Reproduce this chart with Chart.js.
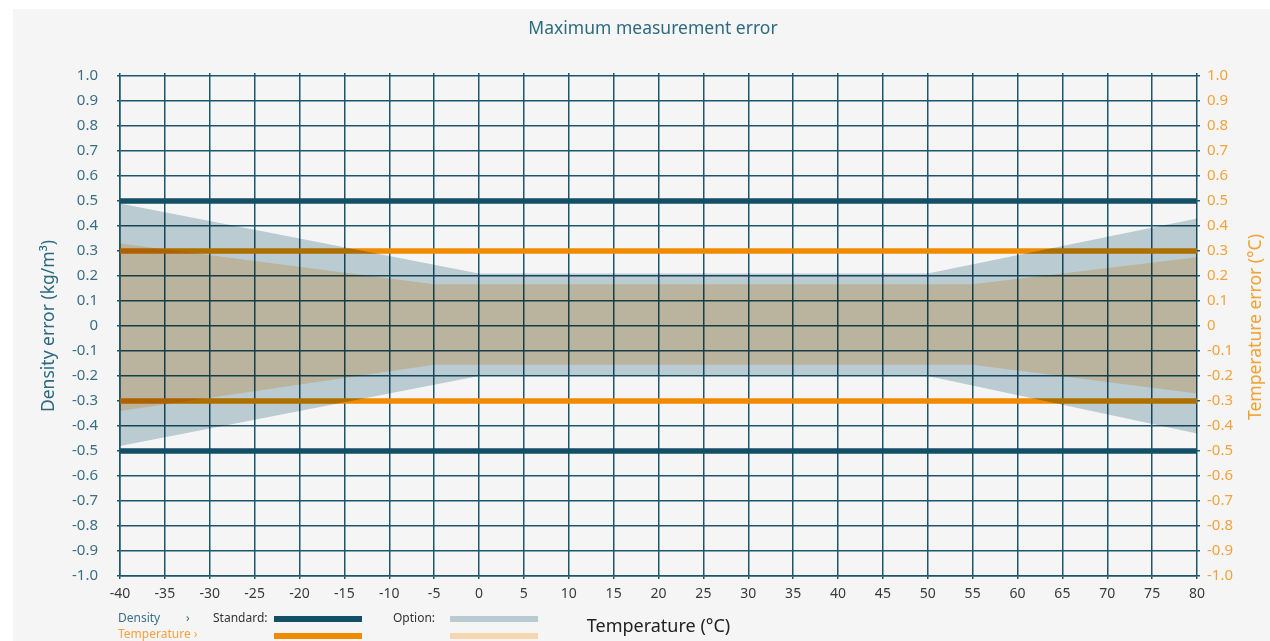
<!DOCTYPE html>
<html>
<head>
<meta charset="utf-8">
<script src="https://cdn.jsdelivr.net/npm/chart.js@4.4.1/dist/chart.umd.min.js"></script>
<style>
  body { margin: 0; background: #fff; font-family: "Noto Sans", sans-serif; }
  #wrap { position: relative; width: 1270px; height: 641px; overflow: hidden; }
  .panel { position: absolute; left: 13px; top: 9px; right: 0; bottom: 0; background: #f5f5f5; }
  .chart-box { position: absolute; left: 0; top: 0; width: 1270px; height: 641px; }
  .title {
    position: absolute; left: 653px; top: 27px; white-space: nowrap;
    transform: translate(-50%, -50%); font-size: 17.5px; color: #2e6b80;
  }
  .y2-title {
    position: absolute; left: 1254px; top: 327px; white-space: nowrap;
    transform: translate(-50%, -50%) rotate(-90deg);
    font-size: 17.5px; color: #f0a032;
  }
  .lg { position: absolute; font-size: 12px; line-height: 14px; white-space: nowrap; }
  .sw { position: absolute; width: 88px; height: 6px; }
</style>
</head>
<body>
<div id="wrap">
  <div class="panel"></div>
  <div class="chart-box"><canvas id="chart"></canvas></div>
  <div class="title">Maximum measurement error</div>
  <div class="y2-title">Temperature error (°C)</div>
  <div id="legend"></div>
</div>
<script>
// --- Data ---
const temps = [-40, 80];
const densityStandard = [0.5, -0.5];
const temperatureStandard = [0.3, -0.3];

const densityOptionTemps = [-40, 0, 50, 80];
const densityOptionUpper = [0.49, 0.21, 0.21, 0.43];
const densityOptionLower = [-0.48, -0.2, -0.2, -0.43];

const temperatureOptionTemps = [-40, -5, 55, 80];
const temperatureOptionUpper = [0.33, 0.167, 0.167, 0.275];
const temperatureOptionLower = [-0.34, -0.155, -0.155, -0.27];

const yTickLabels = ['1.0', '0.9', '0.8', '0.7', '0.6', '0.5', '0.4', '0.3', '0.2', '0.1', '0',
  '-0.1', '-0.2', '-0.3', '-0.4', '-0.5', '-0.6', '-0.7', '-0.8', '-0.9', '-1.0'];

const DARK = '#134f66';
const ORANGE = '#f08a00';
const BAND_BLUE = '#bacbd1';
const BAND_ORANGE = '#ffe2c1';
const GRID = '#1c566c';

function pts(xs, ys) {
  return xs.map((x, i) => ({ x, y: ys[i] }));
}

function band(xs, ys, color, fill, axis) {
  return {
    data: pts(xs, ys), yAxisID: axis, fill, backgroundColor: color,
    borderColor: 'rgba(0,0,0,0)', borderWidth: 0, pointRadius: 0, tension: 0,
  };
}

function stdLine(y, color, axis) {
  return {
    data: pts(temps, [y, y]), yAxisID: axis, fill: false, borderColor: color,
    borderWidth: 5.5, borderCapStyle: 'butt', pointRadius: 0,
  };
}

// Standard lines cover the grid; the option bands (drawn after them) multiply on top
const LAST_LINE = 4;
const multiplyPlugin = {
  id: 'multiply',
  afterDatasetDraw(chart, args) {
    if (args.index === LAST_LINE) chart.ctx.globalCompositeOperation = 'multiply';
  },
  afterDatasetsDraw(chart) { chart.ctx.globalCompositeOperation = 'source-over'; },
};

const gridOpts = { color: GRID, lineWidth: 1.5, tickLength: 3 };
const yLabel = v => yTickLabels[Math.round((1 - v) * 10)];

new Chart(document.getElementById('chart'), {
  type: 'line',
  data: {
    datasets: [
      band(densityOptionTemps, densityOptionUpper, BAND_BLUE, '+1', 'y'),
      band(densityOptionTemps, densityOptionLower, BAND_BLUE, false, 'y'),
      band(temperatureOptionTemps, temperatureOptionUpper, BAND_ORANGE, '+1', 'y2'),
      band(temperatureOptionTemps, temperatureOptionLower, BAND_ORANGE, false, 'y2'),
      stdLine(densityStandard[0], DARK, 'y'),
      stdLine(densityStandard[1], DARK, 'y'),
      stdLine(temperatureStandard[0], ORANGE, 'y2'),
      stdLine(temperatureStandard[1], ORANGE, 'y2'),
    ],
  },
  options: {
    responsive: true,
    maintainAspectRatio: false,
    animation: false,
    events: [],
    layout: { padding: 0 },
    plugins: {
      legend: { display: false },
      tooltip: { enabled: false },
      title: { display: false },
    },
    scales: {
      x: {
        type: 'linear', position: 'bottom', min: -40, max: 80,
        ticks: { stepSize: 5, autoSkip: false, maxRotation: 0, padding: 7,
          color: '#3a3a3a', font: { family: 'Noto Sans', size: 14 } },
        grid: gridOpts,
        border: { color: GRID, width: 1.5 },
        title: { display: true, text: 'Temperature (°C)', color: '#222',
          font: { family: 'Noto Sans', size: 18 }, padding: { top: 0, bottom: 3 } },
        afterFit(s) { s.height = 65; },
      },
      x2: {
        type: 'linear', position: 'top', min: -40, max: 80,
        ticks: { stepSize: 5, display: false },
        grid: { ...gridOpts, drawOnChartArea: false },
        border: { display: false },
        afterFit(s) { s.height = 76; },
      },
      y: {
        position: 'left', min: -1, max: 1,
        ticks: { stepSize: 0.1, padding: 19, color: '#3b6f84',
          font: { family: 'Noto Sans', size: 15 }, callback: yLabel },
        grid: gridOpts,
        border: { color: GRID, width: 1.5 },
        title: { display: true, text: 'Density error (kg/m³)', color: '#2c6a80',
          font: { family: 'Noto Sans', size: 17.5 }, padding: { top: 39, bottom: 0 } },
        afterFit(s) { s.width = 120; },
      },
      y2: {
        position: 'right', min: -1, max: 1,
        ticks: { stepSize: 0.1, padding: 7, color: '#f3a33c',
          font: { family: 'Noto Sans', size: 15 }, callback: yLabel },
        grid: { ...gridOpts, drawOnChartArea: false },
        border: { display: false },
        afterFit(s) { s.width = 73; },
      },
    },
  },
  plugins: [multiplyPlugin],
});

// --- Legend (custom, below the chart) ---
const legendItems = [
  { text: 'Density', color: '#3e7088', x: 118, y: 611 },
  { text: '›', color: '#3e7088', x: 186, y: 611 },
  { text: 'Temperature ›', color: '#f5a043', x: 118, y: 627 },
  { text: 'Standard:', color: '#333', x: 213, y: 611 },
  { text: 'Option:', color: '#333', x: 393, y: 611 },
];
const legendSwatches = [
  { color: DARK, x: 274, y: 616 },
  { color: ORANGE, x: 274, y: 633 },
  { color: '#b9cbd1', x: 450, y: 616 },
  { color: '#f6d6b0', x: 450, y: 633 },
];
const legend = document.getElementById('legend');
legend.innerHTML = legendItems.map(it =>
  `<span class="lg" style="left:${it.x}px;top:${it.y}px;color:${it.color}">${it.text}</span>`
).join('') + legendSwatches.map(s =>
  `<span class="sw" style="left:${s.x}px;top:${s.y}px;background:${s.color}"></span>`
).join('');
</script>
</body>
</html>
